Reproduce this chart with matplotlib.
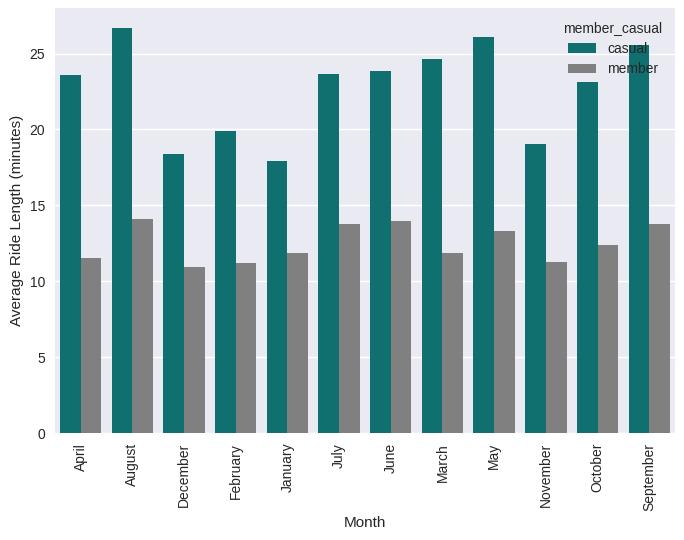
import matplotlib
matplotlib.use('Agg')
import matplotlib.pyplot as plt
import pandas as pd
import seaborn as sns

months = ['April', 'August', 'December', 'February', 'January', 'July',
          'June', 'March', 'May', 'November', 'October', 'September']
casual = [23.61, 26.66, 18.38, 19.90, 17.91, 23.68,
          23.87, 24.67, 26.06, 19.04, 23.15, 25.53]
member = [11.56, 14.07, 10.96, 11.23, 11.89, 13.74,
          13.94, 11.89, 13.28, 11.29, 12.42, 13.74]

df = pd.DataFrame({
    'month': months * 2,
    'ride_length': casual + member,
    'member_casual': ['casual'] * len(months) + ['member'] * len(months),
})

plt.style.use('seaborn-v0_8')
plt.rcParams['font.family'] = ['Liberation Sans', 'DejaVu Sans']

fig = plt.figure(figsize=(6.84, 5.4), dpi=100)
ax = fig.add_subplot(111)
sns.barplot(data=df, x='month', y='ride_length', hue='member_casual',
            palette=['teal', 'gray'], ax=ax)

ax.set_xlabel('Month')
ax.set_ylabel('Average Ride Length (minutes)')
ax.tick_params(axis='x', rotation=90)
ax.legend(title='member_casual', loc='upper right')

fig.subplots_adjust(left=0.080, right=0.987, top=0.985, bottom=0.198)
fig.savefig('out.png', dpi=100)
